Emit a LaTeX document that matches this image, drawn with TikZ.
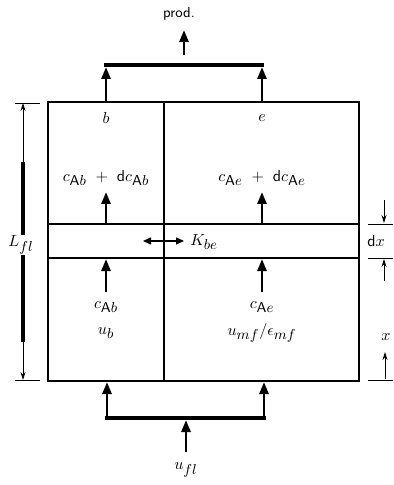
\documentclass[tikz,border=0pt]{standalone}
\usetikzlibrary{arrows.meta}
\DeclareMathSizes{10}{10}{9}{7}
\begin{document}
\begin{tikzpicture}[x=0.625pt,y=-0.625pt,
  boxline/.style={line width=0.75pt},
  flow/.style={line width=1.75pt,-{Triangle[length=7.5pt,width=5.6pt]}},
  bar/.style={line width=2.2pt},
  dim/.style={line width=0.5pt},
  dimarrow/.style={line width=0.5pt,-{Stealth[length=5pt,width=3.1pt]}},
  lbl/.style={font=\normalsize, inner sep=0.6pt},
  slbl/.style={font=\sffamily\small, inner sep=0.6pt}]
\useasboundingbox (0,0) rectangle (393,485);
% bed coordinates
\coordinate (TL) at (48,102);
\coordinate (BR) at (359,381);
\coordinate (divT) at (164,102);
\coordinate (divB) at (164,381);
\coordinate (l1L) at (48,224);
\coordinate (l1R) at (359,224);
\coordinate (l2L) at (48,258);
\coordinate (l2R) at (359,258);
\draw[boxline] (TL) rectangle (BR);
\draw[boxline] (divT) -- (divB);
\draw[boxline] (l1L) -- (l1R);
\draw[boxline] (l2L) -- (l2R);
% top outflow
\coordinate (bTop) at (106,102);
\coordinate (eTop) at (262,102);
\coordinate (barTL) at (104,65);
\coordinate (barTR) at (264,65);
\coordinate (bBarT) at (106,67);
\coordinate (eBarT) at (262,67);
\draw[bar] (barTL) -- (barTR);
\draw[flow] (bTop) -- (bBarT);
\draw[flow] (eTop) -- (eBarT);
\coordinate (prodBase) at (184,55);
\coordinate (prodTip) at (184,30);
\node[slbl] (prod) at (179,14) {prod.};
\draw[flow] (prodBase) -- (prodTip);
% column labels
\node[lbl] (b) at (106,118) {$b$};
\node[lbl] (e) at (262,118) {$e$};
% upper concentration labels
\node[lbl] (cb2) at (106,178) {$c_{\mathsf{A}b}\mskip6mu+\mskip6mu\mathsf{d}c_{\mathsf{A}b}$};
\node[lbl] (ce2) at (262,178) {$c_{\mathsf{A}e}\mskip6mu+\mskip6mu\mathsf{d}c_{\mathsf{A}e}$};
\coordinate (b1) at (106,223);
\coordinate (e1) at (262,223);
\coordinate (b1t) at (106,192);
\coordinate (e1t) at (262,192);
\draw[flow] (b1) -- (b1t);
\draw[flow] (e1) -- (e1t);
% exchange
\coordinate (exL) at (143,241);
\coordinate (exR) at (184,241);
\draw[line width=0.875pt,{Triangle[length=5pt,width=4.4pt]}-{Triangle[length=5pt,width=4.4pt]}] (exL) -- (exR);
\node[lbl,anchor=west] (K) at (189,242) {$K_{be}$};
% lower labels
\node[lbl] (cb1) at (106,307) {$c_{\mathsf{A}b}$};
\node[lbl] (ub) at (106,333) {$u_b$};
\node[lbl] (ce1) at (262,307) {$c_{\mathsf{A}e}$};
\node[lbl] (ue) at (262,333) {$u_{mf}/\epsilon_{mf}$};
\coordinate (cb1n) at (106,292);
\coordinate (ce1n) at (262,292);
\coordinate (b2t) at (106,259);
\coordinate (e2t) at (262,259);
\draw[flow] (cb1n) -- (b2t);
\draw[flow] (ce1n) -- (e2t);
% bottom inflow
\coordinate (barBL) at (105,418);
\coordinate (barBR) at (266,418);
\coordinate (bIn) at (107,418);
\coordinate (eIn) at (264,418);
\coordinate (bBot) at (107,382);
\coordinate (eBot) at (264,382);
\draw[bar] (barBL) -- (barBR);
\draw[flow] (bIn) -- (bBot);
\draw[flow] (eIn) -- (eBot);
\node[lbl] (ufl) at (186,470) {$u_{fl}$};
\coordinate (ufln) at (186,452);
\coordinate (uflt) at (186,420);
\draw[flow] (ufln) -- (uflt);
% left dimension
\coordinate (LT) at (23,103);
\coordinate (LB) at (23,380);
\draw[dim] (15,103) -- (40,103);
\draw[dim] (15,380) -- (40,380);
\draw[dim,{Stealth[length=5pt,width=3.1pt]}-{Stealth[length=5pt,width=3.1pt]}] (LT) -- (LB);
\draw[line width=1.9pt] (23,162) -- (23,342);
\node[lbl,fill=white,inner sep=0.3pt] (L) at (21,245) {$L_{fl}$};
% right dimensions
\draw[dim] (368,224) -- (393,224);
\draw[dim] (368,258) -- (393,258);
\draw[dim] (368,380) -- (393,380);
\coordinate (dxA) at (384,200);
\coordinate (dxB) at (384,281);
\coordinate (dxAt) at (384,223);
\coordinate (dxBt) at (384,259);
\draw[dimarrow] (dxA) -- (dxAt);
\draw[dimarrow] (dxB) -- (dxBt);
\node[lbl,anchor=west] (dx) at (366,241) {$\mathsf{d}x$};
\node[lbl] (x) at (386,337) {$x$};
\coordinate (xB) at (385,379);
\coordinate (xT) at (385,352);
\draw[dimarrow] (xB) -- (xT);
\end{tikzpicture}
\end{document}
